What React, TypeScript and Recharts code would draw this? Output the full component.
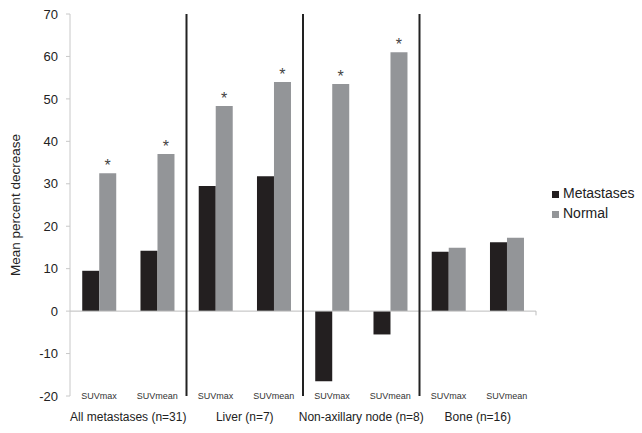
import React from "react"
import {
  BarChart,
  Bar,
  XAxis,
  YAxis,
  ReferenceLine,
  Legend,
  LabelList,
} from "recharts"

const keys = ["am-max", "am-mean", "lv-max", "lv-mean", "na-max", "na-mean", "bn-max", "bn-mean"]
const metrics = ["SUVmax", "SUVmean", "SUVmax", "SUVmean", "SUVmax", "SUVmean", "SUVmax", "SUVmean"]
const groups = [
  "All metastases (n=31)",
  "All metastases (n=31)",
  "Liver (n=7)",
  "Liver (n=7)",
  "Non-axillary node (n=8)",
  "Non-axillary node (n=8)",
  "Bone (n=16)",
  "Bone (n=16)",
]
const metastases = [9.5, 14.2, 29.5, 31.8, -16.5, -5.5, 14, 16.2]
const normal = [32.5, 37, 48.3, 54, 53.5, 61, 14.9, 17.3]
const significant = ["*", "*", "*", "*", "*", "*", "", ""]
const yTicks = [-20, -10, 0, 10, 20, 30, 40, 50, 60, 70]

const data = keys.map((key, i) => ({
  key,
  metric: metrics[i],
  group: groups[i],
  Metastases: metastases[i],
  Normal: normal[i],
  sig: significant[i],
}))

// groups after the first get a black divider at their left edge
const dividers = Array.from(new Set(groups)).slice(1)
// small tick marks on the zero line between SUVmax / SUVmean pairs
const zeroTicks = keys.filter((_, i) => i % 2 === 1)

const MetricTick = (props: any) => {
  const { x, y, payload } = props
  const label = metrics[keys.indexOf(payload.value)]
  return (
    <text x={x} y={y} dy={2.5} textAnchor="middle" fontSize={9} fill="#333">
      {label}
    </text>
  )
}

const GroupTick = (props: any) => {
  const { x, y, payload } = props
  return (
    <text x={x} y={y} dy={11.3} textAnchor="middle" fontSize={12} fill="#222">
      {payload.value}
    </text>
  )
}

export default function App() {
  return (
    <div style={{ position: "absolute", left: 0, top: 0, fontFamily: "Arial, 'Liberation Sans', sans-serif" }}>
      <BarChart
        width={642}
        height={433}
        data={data}
        margin={{ top: 14, right: 106, left: 0, bottom: 0 }}
        barCategoryGap="21%"
        barGap={0}
      >
        <XAxis
          dataKey="key"
          axisLine={false}
          tickLine={false}
          tickSize={0}
          tickMargin={0}
          height={14}
          interval={0}
          tick={<MetricTick />}
        />
        <XAxis
          xAxisId="group"
          dataKey="group"
          allowDuplicatedCategory={false}
          axisLine={false}
          tickLine={false}
          tickSize={0}
          tickMargin={0}
          height={23}
          interval={0}
          tick={<GroupTick />}
        />
        <YAxis
          width={70}
          domain={[-20, 70]}
          ticks={yTicks}
          interval={0}
          axisLine={{ stroke: "#c8c8c8" }}
          tickLine={{ stroke: "#c8c8c8" }}
          tickSize={4}
          tickMargin={8}
          tick={{ fontSize: 13, fill: "#222" }}
          label={{
            value: "Mean percent decrease",
            angle: -90,
            position: "insideLeft",
            offset: 15,
            style: { textAnchor: "middle", fontSize: 13.5, fill: "#222" },
          }}
        />
        <ReferenceLine y={0} stroke="#bdbdbd" />
        {zeroTicks.map((k) => (
          <ReferenceLine
            key={`zt-${k}`}
            segment={[{ x: k, y: 0 }, { x: k, y: -1 }]}
            position="end"
            stroke="#bdbdbd"
          />
        ))}
        {dividers.map((g) => (
          <ReferenceLine key={`div-${g}`} xAxisId="group" x={g} position="start" stroke="#222" strokeWidth={2} />
        ))}
        <Legend
          layout="vertical"
          align="center"
          verticalAlign="middle"
          iconType="square"
          iconSize={7}
          wrapperStyle={{
            position: "absolute",
            left: 552,
            top: 183,
            width: 110,
            fontSize: 14,
            lineHeight: "20px",
            whiteSpace: "nowrap",
            textAlign: "left",
          }}
          formatter={(value: string) => <span style={{ color: "#222" }}>{value}</span>}
        />
        <Bar dataKey="Metastases" fill="#231f20" isAnimationActive={false} />
        <Bar dataKey="Normal" fill="#939598" isAnimationActive={false}>
          <LabelList dataKey="sig" position="top" offset={2} fontSize={16} fill="#444" />
        </Bar>
      </BarChart>
    </div>
  )
}
